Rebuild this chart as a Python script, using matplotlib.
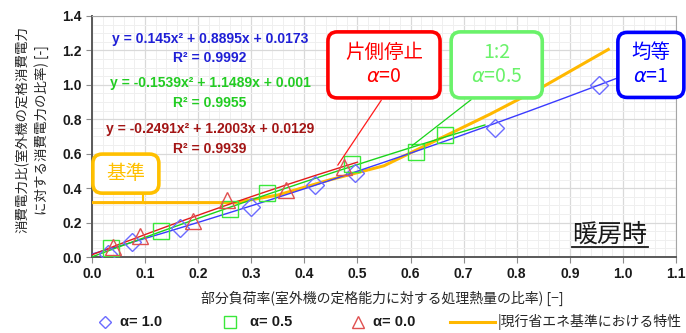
import numpy as np
import matplotlib
matplotlib.use("Agg")
import matplotlib.pyplot as plt
from matplotlib.patches import FancyBboxPatch
from matplotlib.lines import Line2D

JP = ['Noto Sans CJK JP', 'DejaVu Sans']
plt.rcParams['font.family'] = JP
plt.rcParams['mathtext.fontset'] = 'dejavusans'

# measured points: part-load ratio vs. power ratio
a10_x = [0.03, 0.075, 0.165, 0.30, 0.42, 0.495, 0.76, 0.955]
a10_y = [0.02, 0.09, 0.17, 0.29, 0.42, 0.49, 0.75, 1.00]
a05_x = [0.035, 0.13, 0.26, 0.33, 0.49, 0.61, 0.665]
a05_y = [0.05, 0.15, 0.28, 0.37, 0.54, 0.61, 0.71]
a00_x = [0.04, 0.09, 0.19, 0.255, 0.365, 0.475]
a00_y = [0.06, 0.12, 0.21, 0.33, 0.39, 0.52]

# quadratic fits (a2, a1, a0) and R²
fit10 = (0.145, 0.8895, 0.0173, 0.9992)
fit05 = (-0.1539, 1.1489, 0.001, 0.9955)
fit00 = (-0.2491, 1.2003, 0.0129, 0.9939)
fit_ranges = [(0.0, 1.05), (0.0, 0.74), (0.0, 0.50)]

# current energy-saving standard characteristic
std_x = [0.0, 0.27, 0.35, 0.45, 0.55, 0.65, 0.75, 0.85, 0.975]
std_y = [0.316, 0.316, 0.36, 0.45, 0.53, 0.68, 0.83, 0.99, 1.21]

x_ticks = np.round(np.arange(0, 1.101, 0.1), 1)
y_ticks = np.round(np.arange(0, 1.401, 0.2), 1)

fig = plt.figure(figsize=(6.86, 3.33), dpi=100)
ax = fig.add_axes([0.1341, 0.2282, 0.8513, 0.7238])
ASPECT = (0.8513 * 686) / (0.7238 * 333)

ax.set_xlim(0, 1.1)
ax.set_ylim(0, 1.4)
ax.set_xticks(x_ticks)
ax.set_yticks(y_ticks)
ax.set_xticks(np.arange(0, 1.1001, 0.02), minor=True)
ax.set_yticks(np.arange(0, 1.4001, 0.05), minor=True)
ax.grid(which='major', color='#d9d9d9', lw=0.9, zorder=0)
ax.grid(which='minor', color='#efefef', lw=0.7, zorder=0)
ax.tick_params(which='minor', length=0)
ax.tick_params(which='major', length=4, width=0.8, color='#8c8c8c', direction='out')
ax.set_xticklabels([f"{v:.1f}" for v in x_ticks], fontfamily='Liberation Sans',
                   fontweight='bold', fontsize=10, color='#1a1a1a')
ax.set_yticklabels([f"{v:.1f}" for v in y_ticks], fontfamily='Liberation Sans',
                   fontweight='bold', fontsize=10, color='#1a1a1a')
for s in ['top', 'right']:
    ax.spines[s].set_color('#a6a6a6')
for s in ['left', 'bottom']:
    ax.spines[s].set_color('#595959')
    ax.spines[s].set_linewidth(1.4)

# standard characteristic
ax.plot(std_x, std_y, color='#ffb800', lw=2.2, zorder=3, solid_capstyle='butt')

# fit curves
for (a2, a1, a0, r2), (lo, hi), c in zip([fit10, fit05, fit00], fit_ranges,
                                         ['#3a3aff', '#19d419', '#e21b1b']):
    xx = np.linspace(lo, hi, 200)
    ax.plot(xx, a2 * xx**2 + a1 * xx + a0, color=c, lw=1.0, zorder=4)

# measured markers
ax.plot(a10_x, a10_y, ls='none', marker='D', ms=9, mfc='none', mec='#6b6bff',
        mew=1.0, zorder=5)
ax.plot(a05_x, a05_y, ls='none', marker='s', ms=11, mfc='none', mec='#3ae83a',
        mew=1.0, zorder=5)
ax.plot(a00_x, a00_y, ls='none', marker='^', ms=11.5, mfc='none', mec='#e05050',
        mew=1.0, zorder=5)

# fit equations
eqs = [(fit10, '#1f1fd6'), (fit05, '#22cc22'), (fit00, '#a31515')]
eq_y = [0.905, 0.72, 0.53]
for ((a2, a1, a0, r2), c), py in zip(eqs, eq_y):
    ax.text(0.202, py, f"y = {a2:g}x² + {a1:g}x + {a0:g}", transform=ax.transAxes,
            ha='center', va='center', color=c, fontsize=10, fontweight='bold',
            fontfamily='Liberation Sans', zorder=6)
    ax.text(0.202, py - 0.08, f"R² = {r2:g}", transform=ax.transAxes,
            ha='center', va='center', color=c, fontsize=10, fontweight='bold',
            fontfamily='Liberation Sans', zorder=6)


def callout(cx, cy, w, h, lines, ec, tc, fs):
    box = FancyBboxPatch((cx - w / 2, cy - h / 2), w, h,
                         boxstyle='round,pad=0,rounding_size=0.016',
                         transform=ax.transAxes, fc='white', ec=ec, lw=2.6,
                         zorder=7, clip_on=False, mutation_aspect=ASPECT)
    ax.add_patch(box)
    n = len(lines)
    for i, t in enumerate(lines):
        yy = cy + 0.05 * ((n - 1) - 2 * i) if n > 1 else cy
        ax.text(cx, yy, t, transform=ax.transAxes, ha='center', va='center',
                color=tc, fontsize=fs, zorder=8, clip_on=False)


# callouts with leader lines
ax.annotate('', xy=(a00_x[5] - 0.015, a00_y[5]), xytext=(0.498, 0.66),
            textcoords='axes fraction',
            arrowprops=dict(arrowstyle='-', color='#ff1a1a', lw=0.9), zorder=6)
ax.annotate('', xy=(a05_x[5] - 0.012, a05_y[5] + 0.025), xytext=(0.653, 0.66),
            textcoords='axes fraction',
            arrowprops=dict(arrowstyle='-', color='#1ad41a', lw=0.9), zorder=6)
ax.plot([0.0876, 0.0876], [0.268, 0.226], transform=ax.transAxes,
        color='#ffc000', lw=1.5, zorder=6, clip_on=False)

callout(0.500, 0.797, 0.192, 0.274, ['片側停止', r'$\it{\alpha}$=0'],
        '#ff0000', '#ff0000', 14)
callout(0.693, 0.797, 0.156, 0.274, ['1:2', r'$\it{\alpha}$=0.5'],
        '#6af26a', '#6af26a', 14)
callout(0.957, 0.797, 0.113, 0.270, ['均等', r'$\it{\alpha}$=1'],
        '#0000ff', '#0000ff', 14)
callout(0.058, 0.346, 0.113, 0.162, ['基準'], '#ffc000', '#ffc000', 14)

# panel title
ax.text(0.887, 0.094, '暖房時', transform=ax.transAxes, ha='center', va='center',
        fontsize=18, color='#1a1a1a', zorder=6)
ax.plot([0.822, 0.952], [0.041, 0.041], transform=ax.transAxes, color='#1a1a1a',
        lw=1.3, zorder=6)

# axis labels
fig.text(0.558, 0.105, '部分負荷率(室外機の定格能力に対する処理熱量の比率) [−]',
         ha='center', va='center', fontsize=10, color='#262626')
fig.text(0.032, 0.61, '消費電力比(室外機の定格消費電力', rotation=90,
         ha='center', va='center', fontsize=9.7, color='#262626')
fig.text(0.060, 0.61, 'に対する消費電力の比率) [-]', rotation=90,
         ha='center', va='center', fontsize=9.7, color='#262626')

# legend, laid out along the bottom edge
LY = 0.033
fig.add_artist(Line2D([105 / 686], [LY], ls='none', marker='D', ms=6.5, mfc='none',
                      mec='#6b6bff', mew=1.0, transform=fig.transFigure))
fig.add_artist(Line2D([230 / 686], [LY], ls='none', marker='s', ms=8.5, mfc='none',
                      mec='#3ae83a', mew=1.0, transform=fig.transFigure))
fig.add_artist(Line2D([358 / 686], [LY], ls='none', marker='^', ms=8.5, mfc='none',
                      mec='#e05050', mew=1.0, transform=fig.transFigure))
fig.add_artist(Line2D([450 / 686, 495 / 686], [LY, LY], color='#ffb800', lw=2.2,
                      transform=fig.transFigure))
for xpos, lab in zip([120, 250, 373], ['α= 1.0', 'α= 0.5', 'α= 0.0']):
    fig.text(xpos / 686, LY, lab, ha='left', va='center', fontsize=10.5,
             fontweight='bold', fontfamily='Liberation Sans', color='#1a1a1a')
fig.text(498 / 686, LY, '|現行省エネ基準における特性', ha='left', va='center',
         fontsize=10, color='#262626')

fig.savefig('out.png', dpi=100, facecolor='white')
